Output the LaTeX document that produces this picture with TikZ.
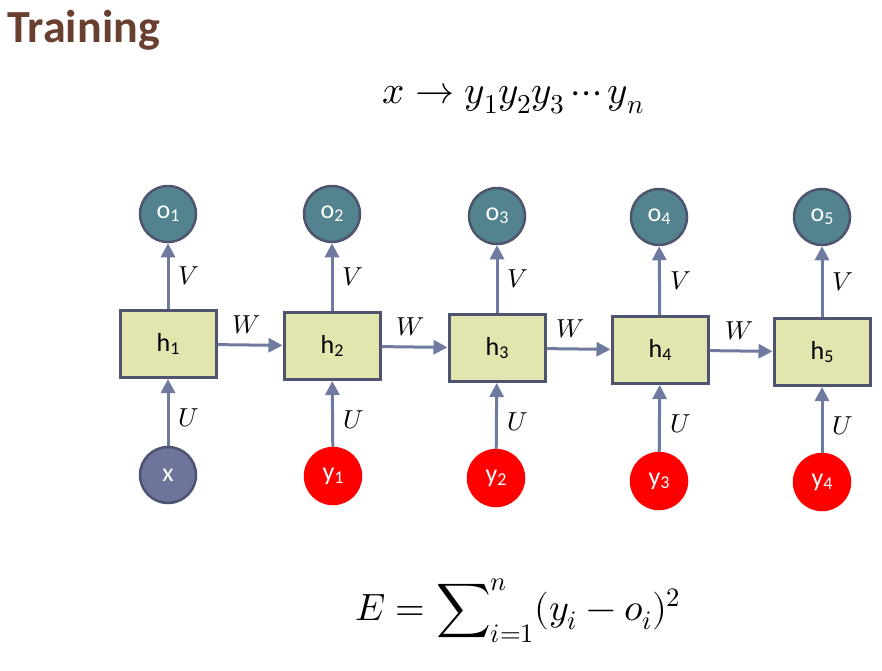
\documentclass[tikz,border=0pt]{standalone}
\usepackage{fontspec}
\usepackage{unicode-math}
\newfontfamily\labelfont{Carlito}
\usetikzlibrary{arrows.meta}

\definecolor{titlebrown}{RGB}{105,64,48}
\definecolor{linkblue}{RGB}{111,122,160}
\definecolor{rimgray}{RGB}{78,84,110}
\definecolor{boxfill}{RGB}{226,229,174}
\definecolor{outteal}{RGB}{82,131,143}
\definecolor{inslate}{RGB}{110,116,154}

\newcommand{\idx}[1]{\raisebox{-3pt}{\fontsize{18}{18}\selectfont #1}}

\tikzset{
  hbox/.style={draw=rimgray, line width=3pt, fill=boxfill, minimum width=96pt, minimum height=67pt, font=\labelfont\fontsize{26}{26}\selectfont},
  outnode/.style={circle, draw=rimgray, line width=2.5pt, fill=outteal, text=white, minimum size=56pt, inner sep=0pt, font=\labelfont\fontsize{26}{26}\selectfont},
  innode/.style={outnode, fill=inslate},
  ynode/.style={outnode, draw=red, fill=red},
  link/.style={draw=linkblue, line width=3pt, -{Triangle[length=14pt,width=14pt]}},
  wlabel/.style={font=\fontsize{26}{26}\selectfont}
}

\begin{document}
\begin{tikzpicture}[x=1pt, y=-1pt]
\useasboundingbox (0,0) rectangle (882,670);

\node[anchor=west, text=titlebrown, font=\labelfont\bfseries\fontsize{46}{46}\selectfont] (title) at (4,30) {Training};
\node[font=\fontsize{39}{44}\selectfont] (seq) at (513,99) {$x\to y_1y_2y_3\cdots y_n$};
\node[font=\fontsize{38}{44}\selectfont] (loss) at (518,611) {$E=\displaystyle\sum\nolimits_{i=1}^{n}(y_i-o_i)^2$};

% hidden states
\node[hbox] (h1) at (168,344) {h\idx{1}};
\node[hbox] (h2) at (332,346) {h\idx{2}};
\node[hbox] (h3) at (497,348) {h\idx{3}};
\node[hbox] (h4) at (660,350) {h\idx{4}};
\node[hbox] (h5) at (822,352) {h\idx{5}};

% outputs
\node[outnode] (o1) at (168,214) {o\idx{1}};
\node[outnode] (o2) at (332,214) {o\idx{2}};
\node[outnode] (o3) at (497,216) {o\idx{3}};
\node[outnode] (o4) at (659,217) {o\idx{4}};
\node[outnode] (o5) at (822,217) {o\idx{5}};

% inputs
\node[innode] (x) at (168,475) {x};
\node[ynode] (y1) at (333,476) {y\idx{1}};
\node[ynode] (y2) at (496,478) {y\idx{2}};
\node[ynode] (y3) at (659,481) {y\idx{3}};
\node[ynode] (y4) at (822,482) {y\idx{4}};

\draw[link] (h1) -- (o1) node[wlabel, midway, right=6pt] {$V$};
\draw[link] (h2) -- (o2) node[wlabel, midway, right=6pt] {$V$};
\draw[link] (h3) -- (o3) node[wlabel, midway, right=6pt] {$V$};
\draw[link] (h4) -- (o4) node[wlabel, midway, right=6pt] {$V$};
\draw[link] (h5) -- (o5) node[wlabel, midway, right=6pt] {$V$};

\draw[link] (h1) -- (h2) node[wlabel, midway, above=6pt, xshift=-4pt] {$W$};
\draw[link] (h2) -- (h3) node[wlabel, midway, above=6pt, xshift=-4pt] {$W$};
\draw[link] (h3) -- (h4) node[wlabel, midway, above=6pt, xshift=-8pt] {$W$};
\draw[link] (h4) -- (h5) node[wlabel, midway, above=6pt, xshift=-2pt] {$W$};

\draw[link] (x) -- (h1) node[wlabel, midway, right=6pt, yshift=-6pt] {$U$};
\draw[link] (y1) -- (h2) node[wlabel, midway, right=6pt, yshift=-6pt] {$U$};
\draw[link] (y2) -- (h3) node[wlabel, midway, right=6pt, yshift=-6pt] {$U$};
\draw[link] (y3) -- (h4) node[wlabel, midway, right=6pt, yshift=-6pt] {$U$};
\draw[link] (y4) -- (h5) node[wlabel, midway, right=6pt, yshift=-6pt] {$U$};
\end{tikzpicture}
\end{document}
